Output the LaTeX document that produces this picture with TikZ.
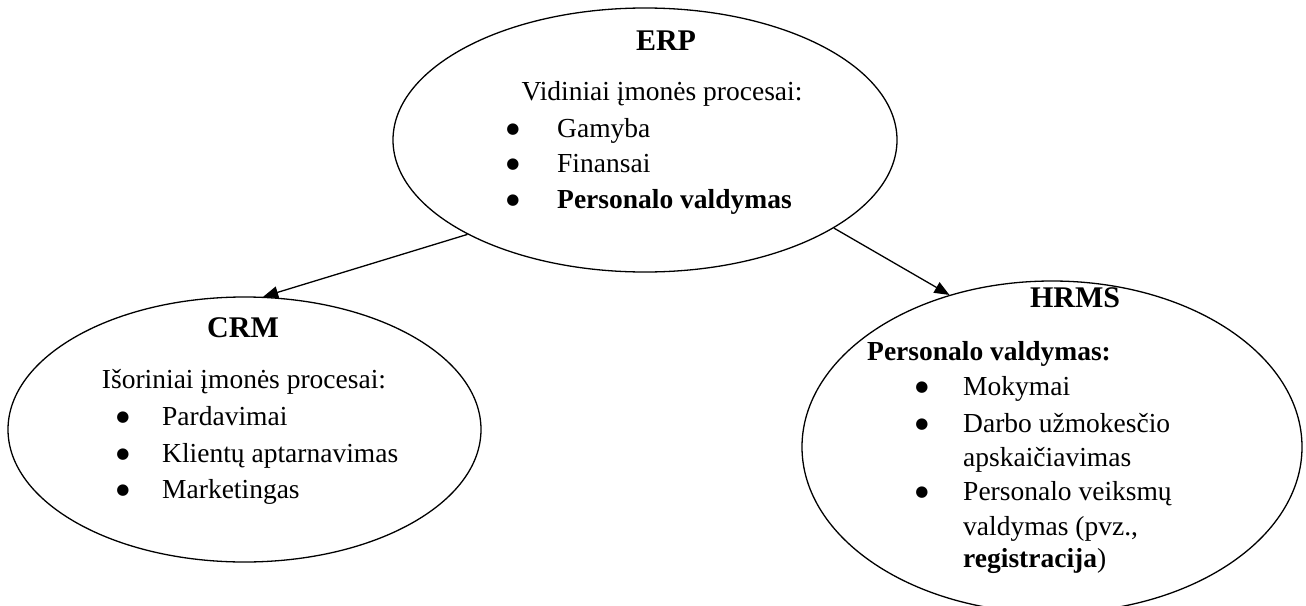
\documentclass[tikz,border=0pt]{standalone}
\usepackage{fontspec}
\setmainfont{Liberation Serif}
\newfontfamily\symfont{DejaVu Sans}
\usetikzlibrary{shapes.geometric,arrows.meta}
\newcommand{\bigbul}{\raisebox{3.5pt}{\symfont\fontsize{15}{15}\selectfont ●}}
\tikzset{
  bubble/.style={ellipse, draw, line width=1.3pt, inner sep=0pt},
  arr/.style={line width=1.3pt, -{Triangle[length=15pt,width=12pt]}},
  ttl/.style={anchor=base, inner sep=0pt, font=\fontsize{30}{36}\selectfont\bfseries},
  txt/.style={anchor=base, inner sep=0pt, font=\fontsize{27.5}{32}\selectfont},
  item/.style={anchor=base west, inner sep=0pt, font=\fontsize{27.5}{32}\selectfont},
  bul/.style={anchor=base, inner sep=0pt},
}
\begin{document}
\begin{tikzpicture}[x=1pt,y=-1pt]
\useasboundingbox (0,0) rectangle (1306,605);
% ellipses
\node[bubble, minimum width=504pt, minimum height=264pt] (erp) at (645,140) {};
\node[bubble, minimum width=473pt, minimum height=265pt] (crm) at (244.5,429.5) {};
\node[bubble, minimum width=500pt, minimum height=332pt] (hrms) at (1052,447) {};
% connectors
\draw[arr] (erp.208) -- (crm.82);
\draw[arr] (erp.335) -- (hrms.124);
% ERP text
\node[ttl] (erpT) at (666,50) {ERP};
\node[txt] (erpS) at (662,100) {Vidiniai įmonės procesai:};
\node[bul] (erpB1) at (513,137) {\bigbul};
\node[item] (erpI1) at (557,137) {Gamyba};
\node[bul] (erpB2) at (513,172) {\bigbul};
\node[item] (erpI2) at (557,172) {Finansai};
\node[bul] (erpB3) at (513,208) {\bigbul};
\node[item] (erpI3) at (557,208) {\bfseries Personalo valdymas};
% CRM text
\node[ttl] (crmT) at (243,337) {CRM};
\node[txt] (crmS) at (244,388) {Išoriniai įmonės procesai:};
\node[bul] (crmB1) at (123,425) {\bigbul};
\node[item] (crmI1) at (162,425) {Pardavimai};
\node[bul] (crmB2) at (123,462) {\bigbul};
\node[item] (crmI2) at (162,462) {Klientų aptarnavimas};
\node[bul] (crmB3) at (123,498) {\bigbul};
\node[item] (crmI3) at (162,498) {Marketingas};
% HRMS text
\node[ttl] (hrmsT) at (1075,307) {HRMS};
\node[item, font=\fontsize{27.5}{32}\selectfont\bfseries] (hrmsS) at (867,360) {Personalo valdymas:};
\node[bul] (hrmsB1) at (922,395) {\bigbul};
\node[item] (hrmsI1) at (963,395) {Mokymai};
\node[bul] (hrmsB2) at (922,432) {\bigbul};
\node[item] (hrmsI2a) at (963,432) {Darbo užmokesčio};
\node[item] (hrmsI2b) at (963,466) {apskaičiavimas};
\node[bul] (hrmsB3) at (922,500) {\bigbul};
\node[item] (hrmsI3a) at (963,500) {Personalo veiksmų};
\node[item] (hrmsI3b) at (963,535) {valdymas (pvz.,};
\node[item] (hrmsI3c) at (963,567) {\textbf{registracija})};
\end{tikzpicture}
\end{document}
